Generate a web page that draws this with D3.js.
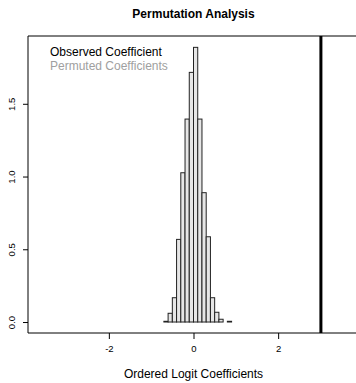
<!DOCTYPE html>
<html>
<head>
<meta charset="utf-8">
<script src="https://cdn.jsdelivr.net/npm/d3@7"></script>
<style>
  body { margin: 0; background: #fff; }
  svg { display: block; font-family: "Liberation Sans", Arial, sans-serif; }
</style>
</head>
<body>
<svg id="chart" width="356" height="383"></svg>
<script>
// histogram of permuted coefficients (density), bin width 0.1
var binStarts = [-0.7, -0.6, -0.5, -0.4, -0.3, -0.2, -0.1, 0.0, 0.1, 0.2, 0.3, 0.4, 0.5, 0.6, 0.7, 0.8];
var densities = [0.005, 0.06, 0.167, 0.568, 1.026, 1.395, 1.716, 1.888, 1.395, 0.889, 0.586, 0.167, 0.067, 0.019, 0, 0.005];
var binWidth = 0.1;
var observed = 3.01;
var xTicks = [-2, 0, 2];
var yTicks = [0, 0.5, 1.0, 1.5];
var legendLabels = ["Observed Coefficient", "Permuted Coefficients"];
var legendColors = ["#000000", "#a0a0a0"];

var svg = d3.select("#chart");
var plotLeft = 28, plotRight = 359, plotTop = 36, plotBottom = 333;

var x = d3.scaleLinear().domain([-3.91, 3.91]).range([plotLeft, plotRight]);
var y = d3.scaleLinear().domain([-0.0755, 1.966]).range([plotBottom, plotTop]);

var bins = binStarts.map(function (b, i) {
    return { x0: b, x1: b + binWidth, d: densities[i] };
});

// clip so the open right side runs off the page like the original
svg.append("defs").append("clipPath").attr("id", "plotclip")
    .append("rect").attr("x", plotLeft).attr("y", plotTop)
    .attr("width", plotRight - plotLeft).attr("height", plotBottom - plotTop);

var plot = svg.append("g").attr("clip-path", "url(#plotclip)");

plot.selectAll("rect.bar")
    .data(bins)
    .enter()
    .append("rect")
    .attr("class", "bar")
    .attr("x", function (d) { return x(d.x0); })
    .attr("width", function (d) { return x(d.x1) - x(d.x0); })
    .attr("y", function (d) { return y(d.d); })
    .attr("height", function (d) { return y(0) - y(d.d); })
    .style("fill", "#e6e6e6")
    .style("stroke", "#222")
    .style("stroke-width", 1);

plot.append("line")
    .attr("x1", x(observed)).attr("x2", x(observed))
    .attr("y1", plotTop).attr("y2", plotBottom)
    .style("stroke", "#000")
    .style("stroke-width", 3);

// box (top, left, bottom)
svg.append("path")
    .attr("d", "M" + (plotRight + 5) + "," + plotTop + "H" + plotLeft + "V" + plotBottom + "H" + (plotRight + 5))
    .style("fill", "none")
    .style("stroke", "#000")
    .style("stroke-width", 1);

var xAxis = svg.append("g")
    .attr("transform", "translate(0," + plotBottom + ")")
    .call(d3.axisBottom(x).tickValues(xTicks).tickSize(6).tickPadding(6)
        .tickFormat(function (d) { return String(d); }));
xAxis.select(".domain").remove();
xAxis.selectAll("text").style("font-size", "9.5px").style("font-family", "Liberation Sans, Arial, sans-serif");

var yAxis = svg.append("g")
    .attr("transform", "translate(" + plotLeft + ",0)")
    .call(d3.axisLeft(y).tickValues(yTicks).tickSize(5)
        .tickFormat(d3.format(".1f")));
yAxis.select(".domain").remove();
yAxis.selectAll("text")
    .attr("x", null)
    .attr("text-anchor", "middle")
    .attr("transform", "translate(-16,0) rotate(-90)")
    .attr("dy", "0.35em")
    .style("font-size", "9.5px")
    .style("font-family", "Liberation Sans, Arial, sans-serif");

svg.append("text")
    .attr("x", 193.5).attr("y", 18)
    .attr("text-anchor", "middle")
    .style("font-weight", "bold")
    .style("font-size", "12px")
    .text("Permutation Analysis");

svg.append("text")
    .attr("x", 193.5).attr("y", 378)
    .attr("text-anchor", "middle")
    .style("font-size", "12px")
    .text("Ordered Logit Coefficients");

svg.selectAll("text.legend")
    .data(legendLabels)
    .enter()
    .append("text")
    .attr("class", "legend")
    .attr("x", 50)
    .attr("y", function (d, i) { return 55.5 + i * 14; })
    .style("font-size", "12px")
    .style("fill", function (d, i) { return legendColors[i]; })
    .text(function (d) { return d; });
</script>
</body>
</html>
